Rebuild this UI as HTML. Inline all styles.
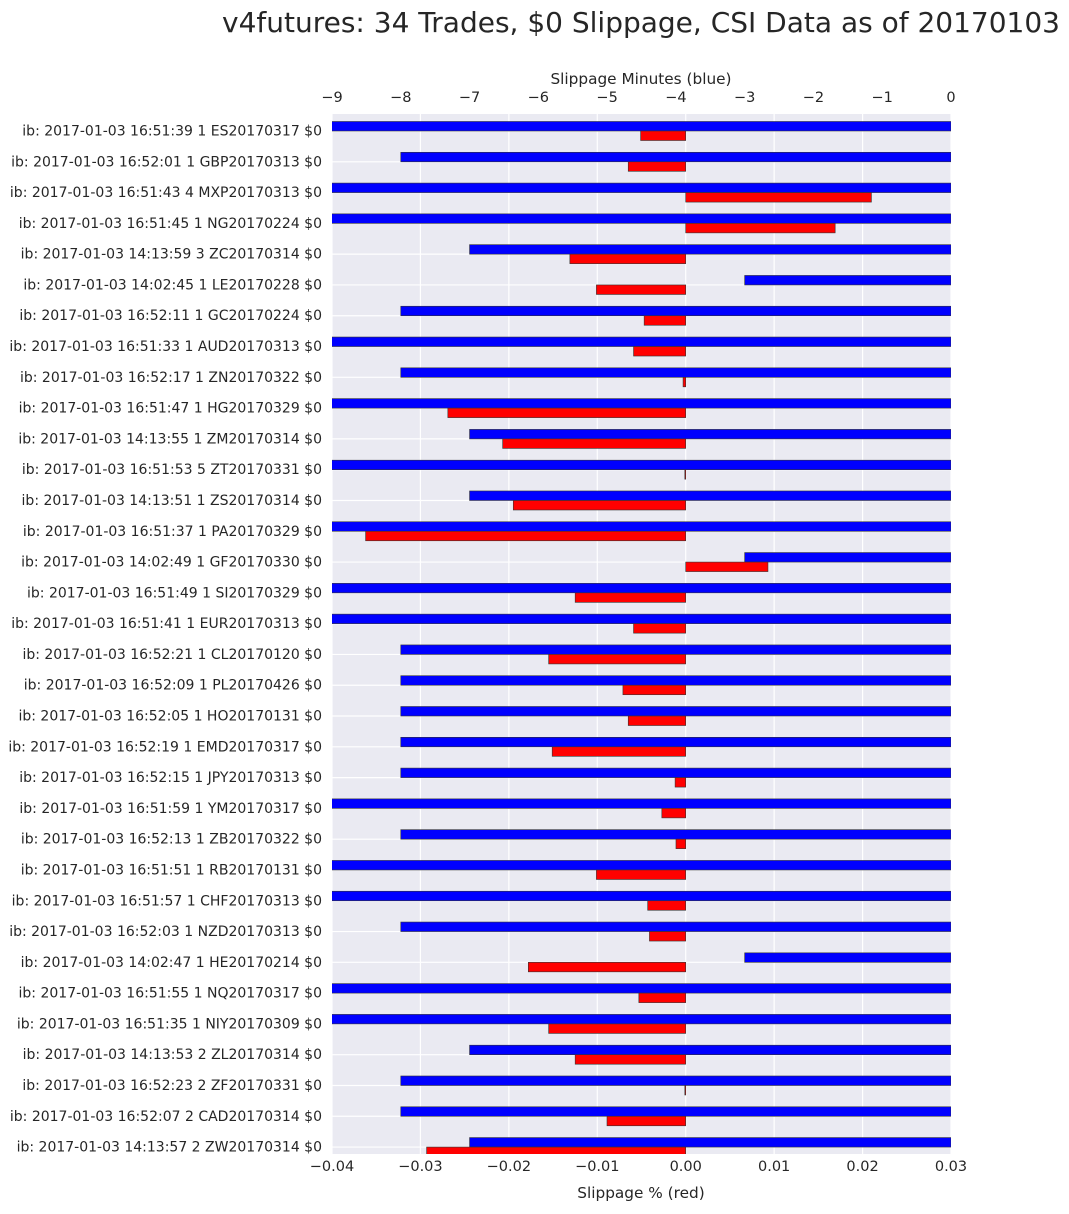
<!DOCTYPE html>
<html><head><meta charset="utf-8"><style>
body{margin:0;background:#fff;font-family:"DejaVu Sans","Liberation Sans",sans-serif;}
</style></head><body>
<svg id="c" width="1069" height="1210" xmlns="http://www.w3.org/2000/svg" font-family="DejaVu Sans, Liberation Sans, sans-serif"></svg>
<script>
const labels=["ib: 2017-01-03 16:51:39 1 ES20170317 $0","ib: 2017-01-03 16:52:01 1 GBP20170313 $0","ib: 2017-01-03 16:51:43 4 MXP20170313 $0","ib: 2017-01-03 16:51:45 1 NG20170224 $0","ib: 2017-01-03 14:13:59 3 ZC20170314 $0","ib: 2017-01-03 14:02:45 1 LE20170228 $0","ib: 2017-01-03 16:52:11 1 GC20170224 $0","ib: 2017-01-03 16:51:33 1 AUD20170313 $0","ib: 2017-01-03 16:52:17 1 ZN20170322 $0","ib: 2017-01-03 16:51:47 1 HG20170329 $0","ib: 2017-01-03 14:13:55 1 ZM20170314 $0","ib: 2017-01-03 16:51:53 5 ZT20170331 $0","ib: 2017-01-03 14:13:51 1 ZS20170314 $0","ib: 2017-01-03 16:51:37 1 PA20170329 $0","ib: 2017-01-03 14:02:49 1 GF20170330 $0","ib: 2017-01-03 16:51:49 1 SI20170329 $0","ib: 2017-01-03 16:51:41 1 EUR20170313 $0","ib: 2017-01-03 16:52:21 1 CL20170120 $0","ib: 2017-01-03 16:52:09 1 PL20170426 $0","ib: 2017-01-03 16:52:05 1 HO20170131 $0","ib: 2017-01-03 16:52:19 1 EMD20170317 $0","ib: 2017-01-03 16:52:15 1 JPY20170313 $0","ib: 2017-01-03 16:51:59 1 YM20170317 $0","ib: 2017-01-03 16:52:13 1 ZB20170322 $0","ib: 2017-01-03 16:51:51 1 RB20170131 $0","ib: 2017-01-03 16:51:57 1 CHF20170313 $0","ib: 2017-01-03 16:52:03 1 NZD20170313 $0","ib: 2017-01-03 14:02:47 1 HE20170214 $0","ib: 2017-01-03 16:51:55 1 NQ20170317 $0","ib: 2017-01-03 16:51:35 1 NIY20170309 $0","ib: 2017-01-03 14:13:53 2 ZL20170314 $0","ib: 2017-01-03 16:52:23 2 ZF20170331 $0","ib: 2017-01-03 16:52:07 2 CAD20170314 $0","ib: 2017-01-03 14:13:57 2 ZW20170314 $0"];
const minutes=[-9.5,-8,-9.5,-9.5,-7,-3,-8,-9.5,-8,-9.5,-7,-9.5,-7,-9.5,-3,-9.5,-9.5,-8,-8,-8,-8,-8,-9.5,-8,-9.5,-9.5,-8,-3,-9.5,-9.5,-7,-8,-8,-7];
const slippage=[-0.0051,-0.0065,0.021,0.0169,-0.0131,-0.0101,-0.0047,-0.0059,-0.0003,-0.0269,-0.0207,-0.0001,-0.0195,-0.0362,0.0093,-0.0125,-0.0059,-0.0155,-0.0071,-0.0065,-0.0151,-0.0012,-0.0027,-0.0011,-0.0101,-0.0043,-0.0041,-0.0178,-0.0053,-0.0155,-0.0125,-0.0001,-0.0089,-0.0293];
const bottomTicks=[-0.04,-0.03,-0.02,-0.01,0.00,0.01,0.02,0.03];
const topTicks=[-9,-8,-7,-6,-5,-4,-3,-2,-1,0];

const L=332,R=951,T=114,B=1154;
const xs=v=>L+(v+0.04)/0.07*(R-L);
const xm=v=>L+(v+9)/9*(R-L);
const yc=i=>131+i*30.79;
const svg=document.getElementById('c');
const NS='http://www.w3.org/2000/svg';
function mk(t,a,txt){const e=document.createElementNS(NS,t);for(const k in a)e.setAttribute(k,a[k]);if(txt!==undefined)e.textContent=txt;svg.appendChild(e);return e;}
let e;
e=mk('rect',{x:L,y:T,width:R-L,height:B-T,fill:'#eaeaf2'});

const cp=mk('clipPath',{id:'cp'});const cr=document.createElementNS(NS,'rect');cr.setAttribute('x',L);cr.setAttribute('y',T);cr.setAttribute('width',R-L);cr.setAttribute('height',B-T);cp.appendChild(cr);
bottomTicks.forEach(t=>{e=mk('line',{x1:xs(t),x2:xs(t),y1:T,y2:B,stroke:'#fff','stroke-width':1.2});

e=mk('text',{x:xs(t),y:1171,'font-size':14.5,fill:'#262626','text-anchor':'middle'},(t<0?'\u2212':'')+Math.abs(t).toFixed(2));
});
labels.forEach((l,i)=>{e=mk('line',{x1:L,x2:R,y1:yc(i),y2:yc(i),stroke:'#fff','stroke-width':1.2});
});
topTicks.forEach(t=>{e=mk('text',{x:xm(t),y:102,'font-size':14.5,fill:'#262626','text-anchor':'middle'},(t<0?'\u2212':'')+Math.abs(t));
});
labels.forEach((l,i)=>{
const x0=xm(minutes[i]);
e=mk('rect',{x:Math.max(L-1,x0),y:yc(i)-9.5,width:R-Math.max(L-1,x0),height:9.5,fill:'#0000ff',stroke:'#333','stroke-width':0.6,'clip-path':'url(#cp)'});

const a=xs(0),b=xs(slippage[i]);
e=mk('rect',{x:Math.min(a,b),y:yc(i),width:Math.max(Math.abs(b-a),0.8),height:9.5,fill:'#ff0000',stroke:'#333','stroke-width':0.6,'clip-path':'url(#cp)'});

e=mk('text',{x:322,y:yc(i)+4.5,'font-size':14,fill:'#262626','text-anchor':'end'},l);

});
e=mk('text',{x:641,y:1198,'font-size':15.3,fill:'#262626','text-anchor':'middle'},'Slippage % (red)');

e=mk('text',{x:641,y:84,'font-size':15.3,fill:'#262626','text-anchor':'middle'},'Slippage Minutes (blue)');

e=mk('text',{x:641,y:32,'font-size':28,fill:'#262626','text-anchor':'middle'},'v4futures: 34 Trades, $0 Slippage, CSI Data as of 20170103');

</script>
</body></html>
